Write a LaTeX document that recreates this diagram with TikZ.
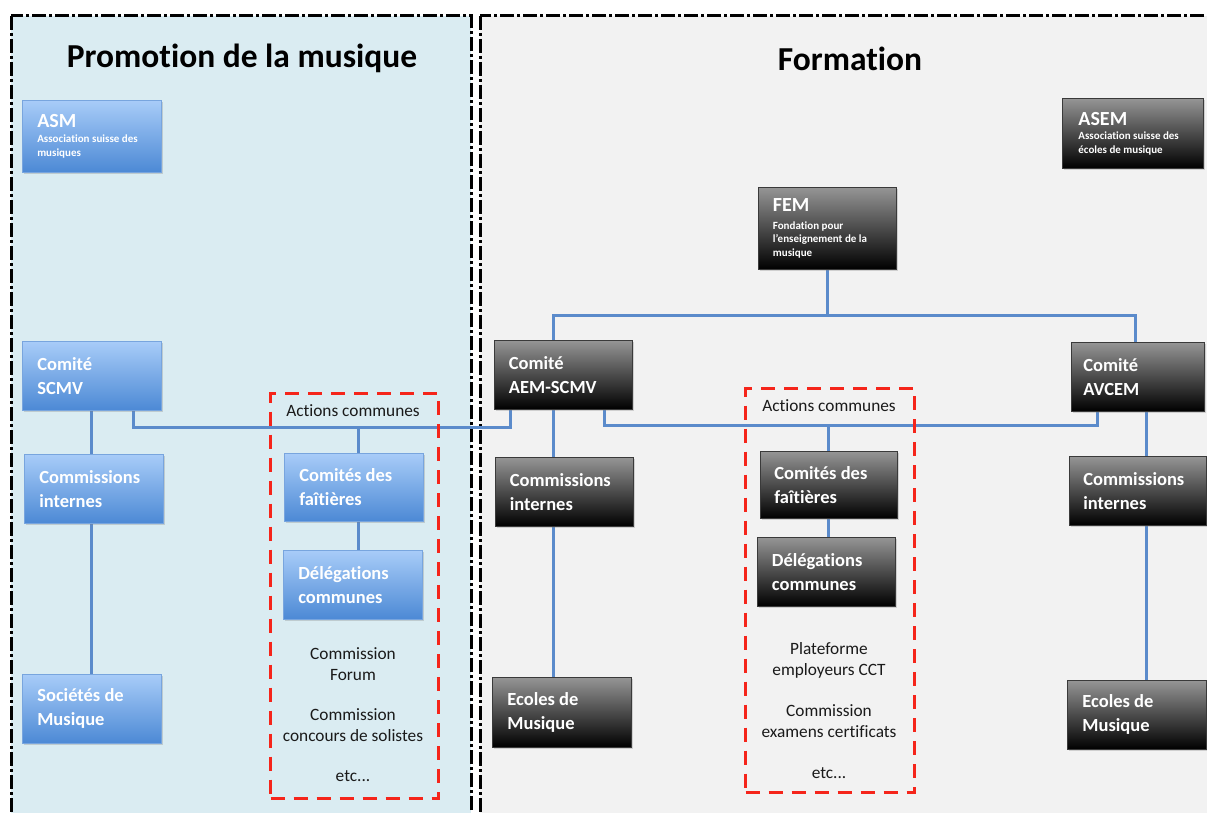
\documentclass[tikz,border=0pt]{standalone}
\usepackage{fontspec}
\setmainfont{Carlito}[Ligatures=NoCommon]
\usetikzlibrary{shadows,calc}
\definecolor{leftbg}{HTML}{DAECF2}
\definecolor{rightbg}{HTML}{F2F2F2}
\definecolor{connblue}{HTML}{5B8BCB}
\definecolor{redc}{HTML}{F5251B}
\definecolor{bluetop}{HTML}{A8CCF8}
\definecolor{bluebot}{HTML}{4C89D5}
\definecolor{blueedge}{HTML}{78A5DE}
\definecolor{darktop}{HTML}{959595}
\definecolor{darkedge}{HTML}{3A3A3A}
\definecolor{txtdark}{HTML}{1A1A1A}
\pgfdeclarelayer{bg}
\pgfdeclarelayer{conns}
\pgfsetlayers{bg,conns,main}
\begin{document}
\begin{tikzpicture}[x=1pt,y=-1pt,
  every node/.append style={execute at begin node={\spaceskip=0pt\xspaceskip=0pt\relax}},
  panel/.style={draw=black,line width=3pt,dash pattern=on 14pt off 3pt on 3pt off 3pt},
  title/.style={font=\fontsize{33.5}{40}\selectfont\bfseries,text=black},
  box/.style={rectangle,anchor=north west,inner xsep=12pt,inner ysep=0pt,
    text width=109pt,align=left,text=white,
    font=\fontsize{18.5}{24}\selectfont\bfseries,
    drop shadow={shadow xshift=1.5pt,shadow yshift=-2pt,opacity=0.3}},
  bluebox/.style={box,top color=bluetop,bottom color=bluebot,draw=blueedge,line width=0.6pt},
  darkbox/.style={box,top color=darktop,bottom color=black,draw=darkedge,line width=0.8pt},
  conn/.style={draw=connblue,line width=3pt},
  redbox/.style={draw=redc,line width=3pt,dash pattern=on 14pt off 9pt,anchor=north west,inner sep=0pt},
  small/.style={font=\fontsize{17.3}{21}\selectfont,text=txtdark,align=center}
]
\useasboundingbox (0,0) rectangle (1207,813);
\newcommand\hd[2]{{\fontsize{20}{22}\selectfont #1\par}\vspace{1.5pt}{\fontsize{11}{13.3}\selectfont #2\par}}

% boxes - left
\node[bluebox,minimum width=139pt,minimum height=72pt] (asm) at (22,100) {\hd{ASM}{Association suisse des\par musiques}};
\node[bluebox,minimum width=139pt,minimum height=69pt] (scmv) at (22,341) {Comité\\SCMV};
\node[bluebox,minimum width=139pt,minimum height=69pt] (ciL) at (24,454) {Commissions\\internes};
\node[bluebox,minimum width=139pt,minimum height=69pt] (soc) at (22,674) {Sociétés de\\Musique};
\node[bluebox,minimum width=139pt,minimum height=68pt] (cfL) at (284,453) {Comités des\\faîtières};
\node[bluebox,minimum width=139pt,minimum height=69pt] (dcL) at (283,550) {Délégations\\communes};
% boxes - right
\node[darkbox,minimum width=138pt,minimum height=82pt] (fem) at (758,187) {\vspace{3pt}\hd{FEM}{Fondation pour\par l'enseignement de la\par musique}};
\node[darkbox,minimum width=141pt,minimum height=70pt] (asem) at (1062,98) {\hd{ASEM}{Association suisse des\par écoles de musique}};
\node[darkbox,minimum width=138pt,minimum height=69pt] (aem) at (494,340) {Comité\\AEM-SCMV};
\node[darkbox,minimum width=133pt,minimum height=69pt] (avcem) at (1071,342) {Comité\\AVCEM};
\node[darkbox,minimum width=138pt,minimum height=69pt] (ciM) at (495,457) {Commissions\\internes};
\node[darkbox,minimum width=137pt,minimum height=69pt] (ciR) at (1069,456) {Commissions\\internes};
\node[darkbox,minimum width=137pt,minimum height=67pt] (cfR) at (760,451) {Comités des\\faîtières};
\node[darkbox,minimum width=138pt,minimum height=69pt] (dcR) at (757,537) {Délégations\\communes};
\node[darkbox,minimum width=139pt,minimum height=70pt] (ecM) at (492,677) {Ecoles de\\Musique};
\node[darkbox,minimum width=139pt,minimum height=69pt] (ecR) at (1067,680) {Ecoles de\\Musique};

% titles
\node[title] (tL) at (242,58) {Promotion de la musique};
\node[title] (tR) at (850,59) {Formation};

% common actions groups
\node[redbox,minimum width=168pt,minimum height=405pt] (grpL) at (269,392) {};
\node[redbox,minimum width=169pt,minimum height=404pt] (grpR) at (744,387) {};
\node[small] (actL) at (353,411) {Actions communes};
\node[small] (actR) at (829,406) {Actions communes};
\node[small] (forum) at (353,664) {Commission\\Forum};
\node[small] (solist) at (353,725) {Commission\\concours de solistes};
\node[small] (etcL) at (353,776) {etc...};
\node[small] (cct) at (829,660) {Plateforme\\employeurs CCT};
\node[small] (exam) at (829,721) {Commission\\examens certificats};
\node[small] (etcR) at (829,773) {etc...};

% panels
\begin{pgfonlayer}{bg}
\fill[white] (0,0) rectangle (1207,813);
\begin{scope}
\clip (0,0) rectangle (1207,813);
\path[panel,fill=leftbg] (11,16) rectangle (471,850);
\path[panel,fill=rightbg] (480,16) rectangle (1250,850);
\end{scope}
\end{pgfonlayer}

% connectors
\coordinate (hL) at (0,427);
\coordinate (hT) at (0,315);
\coordinate (hR) at (0,425);
\coordinate (scmvR) at ([xshift=-28pt]scmv.south east);
\coordinate (aemL) at ([xshift=16pt]aem.south west);
\coordinate (aemR) at ([xshift=-28pt]aem.south east);
\coordinate (aemV) at ([xshift=-10pt]aem.south);
\coordinate (aemT) at ([xshift=-10pt]aem.north);
\coordinate (avB) at ([xshift=26pt]avcem.south west);
\coordinate (avT) at ([xshift=-2pt]avcem.north);
\coordinate (avV) at ([xshift=8.5pt]avcem.south);
\coordinate (cfLT) at ([xshift=4.5pt]cfL.north);
\begin{pgfonlayer}{conns}
\draw[conn] (scmv.south) -- (scmv.south |- ciL.north);
\draw[conn] (scmv.south |- ciL.south) -- (scmv.south |- soc.north);
\draw[conn] (scmvR) -- (scmvR |- hL) -- (aemL |- hL) -- (aemL);
\draw[conn] (cfLT |- hL) -- (cfLT);
\draw[conn] (cfLT |- cfL.south) -- (cfLT |- dcL.north);
\draw[conn] (fem.south) -- (fem.south |- hT);
\draw[conn] (aemT) -- (aemT |- hT) -- (avT |- hT) -- (avT);
\draw[conn] (aemR) -- (aemR |- hR) -- (avB |- hR) -- (avB);
\draw[conn] (cfR.north |- hR) -- (cfR.north);
\draw[conn] (cfR.south) -- (cfR.south |- dcR.north);
\draw[conn] (aemV) -- (aemV |- ciM.north);
\draw[conn] (aemV |- ciM.south) -- (aemV |- ecM.north);
\draw[conn] (avV) -- (avV |- ciR.north);
\draw[conn] (avV |- ciR.south) -- (avV |- ecR.north);
\end{pgfonlayer}
\end{tikzpicture}
\end{document}
